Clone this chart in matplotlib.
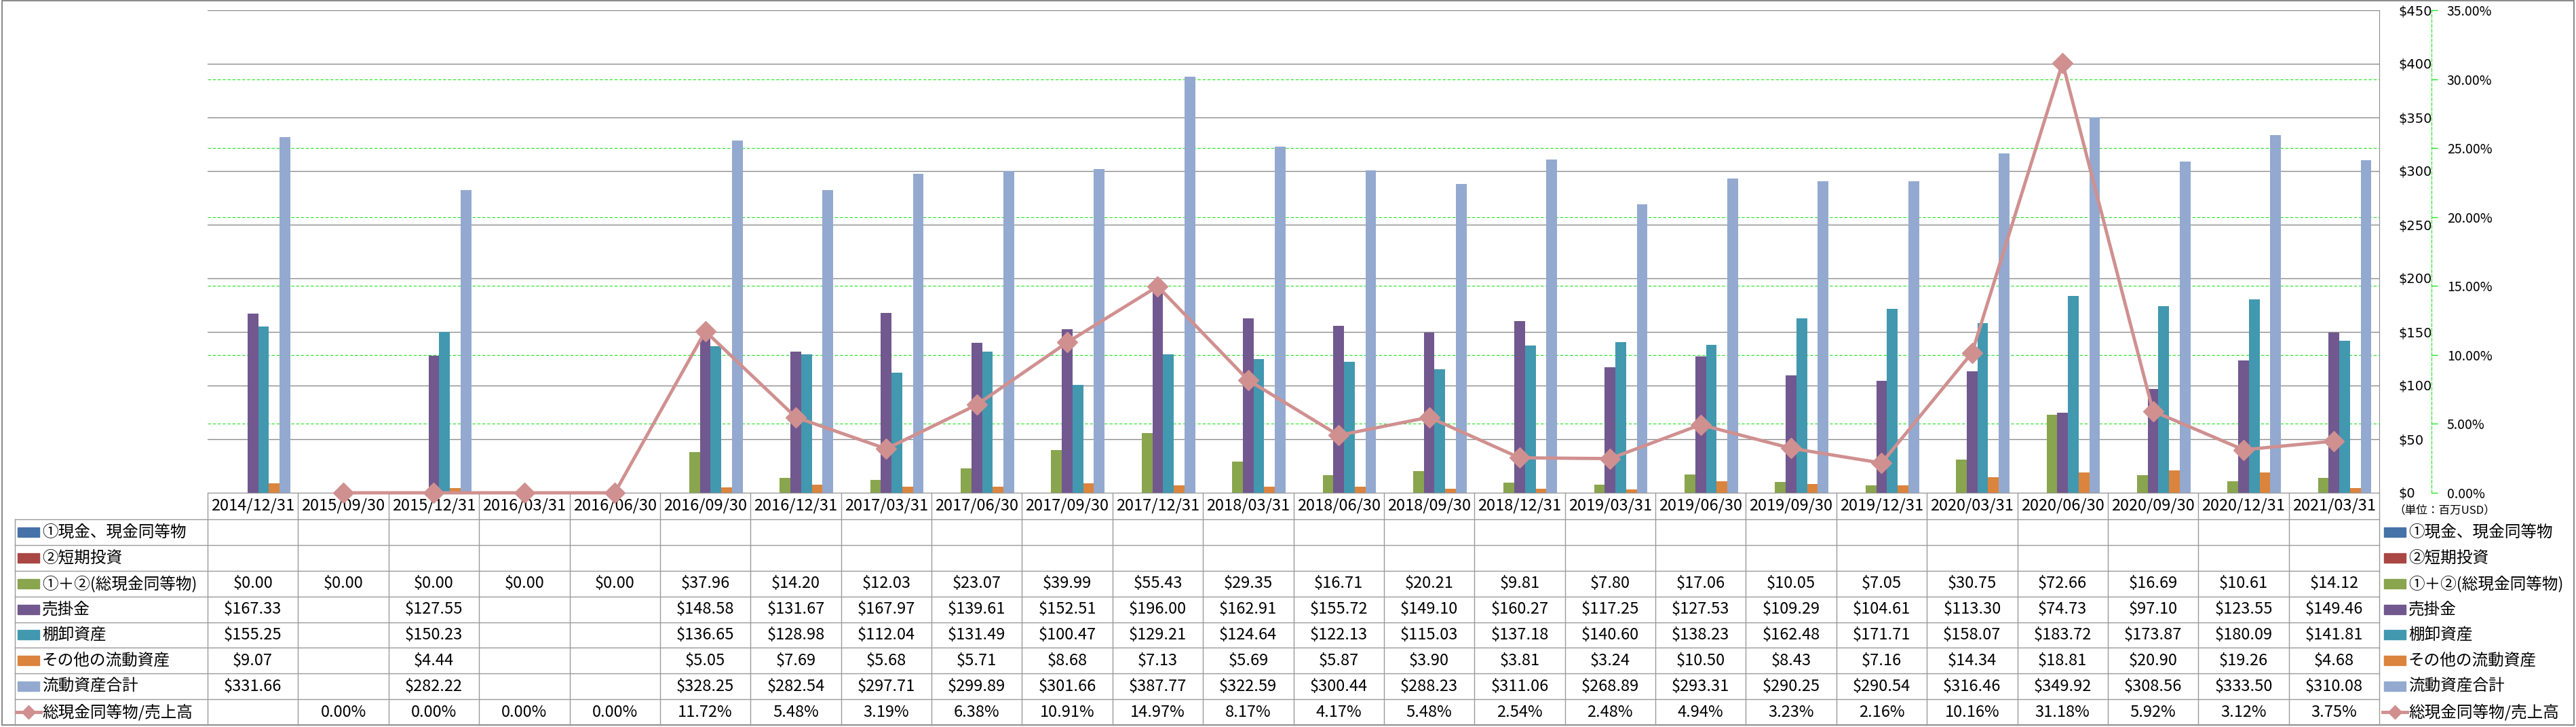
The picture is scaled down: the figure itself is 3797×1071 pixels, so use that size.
import matplotlib
matplotlib.use("Agg")
import matplotlib.pyplot as plt
import numpy as np
from matplotlib.patches import Rectangle
from matplotlib.transforms import blended_transform_factory

nan = np.nan

dates = ["2014/12/31", "2015/09/30", "2015/12/31", "2016/03/31", "2016/06/30", "2016/09/30",
         "2016/12/31", "2017/03/31", "2017/06/30", "2017/09/30", "2017/12/31", "2018/03/31",
         "2018/06/30", "2018/09/30", "2018/12/31", "2019/03/31", "2019/06/30", "2019/09/30",
         "2019/12/31", "2020/03/31", "2020/06/30", "2020/09/30", "2020/12/31", "2021/03/31"]

cash = [nan] * len(dates)
short_inv = [nan] * len(dates)
cash_total = [0.00, 0.00, 0.00, 0.00, 0.00, 37.96, 14.20, 12.03, 23.07, 39.99, 55.43, 29.35,
              16.71, 20.21, 9.81, 7.80, 17.06, 10.05, 7.05, 30.75, 72.66, 16.69, 10.61, 14.12]
receivables = [167.33, nan, 127.55, nan, nan, 148.58, 131.67, 167.97, 139.61, 152.51, 196.00, 162.91,
               155.72, 149.10, 160.27, 117.25, 127.53, 109.29, 104.61, 113.30, 74.73, 97.10, 123.55, 149.46]
inventory = [155.25, nan, 150.23, nan, nan, 136.65, 128.98, 112.04, 131.49, 100.47, 129.21, 124.64,
             122.13, 115.03, 137.18, 140.60, 138.23, 162.48, 171.71, 158.07, 183.72, 173.87, 180.09, 141.81]
other_assets = [9.07, nan, 4.44, nan, nan, 5.05, 7.69, 5.68, 5.71, 8.68, 7.13, 5.69,
                5.87, 3.90, 3.81, 3.24, 10.50, 8.43, 7.16, 14.34, 18.81, 20.90, 19.26, 4.68]
current_total = [331.66, nan, 282.22, nan, nan, 328.25, 282.54, 297.71, 299.89, 301.66, 387.77, 322.59,
                 300.44, 288.23, 311.06, 268.89, 293.31, 290.25, 290.54, 316.46, 349.92, 308.56, 333.50, 310.08]
cash_to_sales = [nan, 0.00, 0.00, 0.00, 0.00, 11.72, 5.48, 3.19, 6.38, 10.91, 14.97, 8.17,
                 4.17, 5.48, 2.54, 2.48, 4.94, 3.23, 2.16, 10.16, 31.18, 5.92, 3.12, 3.75]

bar_names = ["①現金、現金同等物", "②短期投資", "①＋②(総現金同等物)", "売掛金", "棚卸資産",
             "その他の流動資産", "流動資産合計"]
line_name = "総現金同等物/売上高"
bar_colors = ["#4572A7", "#AA4643", "#89A54E", "#71588F", "#4198AF", "#DB843D", "#93A9CF"]
line_color = "#D09090"
green = "#1EE61E"
grid_gray = "#8C8C8C"
table_gray = "#9A9A9A"

usd_ticks = list(range(0, 451, 50))
pct_ticks = [0.00, 0.05, 0.10, 0.15, 0.20, 0.25, 0.30, 0.35]

W, H, DPI = 3797, 1071, 100
plt.rcParams["font.family"] = ["Noto Sans CJK JP", "DejaVu Sans"]

fig = plt.figure(figsize=(W / DPI, H / DPI), dpi=DPI)
fig.patch.set_facecolor("white")

# layout in pixels
PL, PR, PT, PB = 306, 3507, 15, 726
TL, TB = 22, 1068
ROW_TOP = 765
ROW_H = (TB - ROW_TOP) / 8
FS = 17

tax = fig.add_axes([0, 0, 1, 1])
tax.set_xlim(0, W)
tax.set_ylim(H, 0)
tax.axis("off")

ax = fig.add_axes([PL / W, 1 - PB / H, (PR - PL) / W, (PB - PT) / H])
n = len(dates)
x = np.arange(n)
ax.set_xlim(-0.5, n - 0.5)
usd_max = usd_ticks[-1]
pct_max = pct_ticks[-1]
ax.set_ylim(0, usd_max)

bar_series = [cash, short_inv, cash_total, receivables, inventory, other_assets, current_total]
bw = 0.118
for j, (vals, col) in enumerate(zip(bar_series, bar_colors)):
    ax.bar(x + (j - 3) * bw, np.array(vals, dtype=float), width=bw, color=col, zorder=2)

ax.set_xticks([])
ax.grid(axis="y", color=grid_gray, lw=1.0)
ax.set_axisbelow(True)
for t in pct_ticks[1:-1]:
    ax.axhline(t / pct_max * usd_max, color=green, lw=0.8, ls=(0, (4, 2.5)), zorder=1)
for s in ["top", "left"]:
    ax.spines[s].set_visible(False)
ax.spines["right"].set_color(grid_gray)
ax.spines["bottom"].set_color(table_gray)

ax2 = ax.twinx()
ax2.set_ylim(0, pct_max)
ax2.plot(x, np.array(cash_to_sales) / 100, color=line_color, lw=3.5, marker="D", ms=15,
         mec=line_color, clip_on=False, zorder=3)

# twinx moves the host ticks to the left, so set them up afterwards
ax.set_yticks(usd_ticks)
ax.set_yticklabels([f"${v}" for v in usd_ticks])
ax.yaxis.tick_right()
ax.tick_params(axis="y", which="both", left=False, right=False, labelleft=False,
               labelright=True, pad=17, labelsize=14)

ax2.set_yticks(pct_ticks)
ax2.set_yticklabels([f"{v * 100:.2f}%" for v in pct_ticks])
ax2.tick_params(axis="y", length=6.5, width=1, color=green, pad=10, labelsize=14)
for lbl in ax.get_yticklabels() + ax2.get_yticklabels():
    lbl.set_fontfamily("DejaVu Sans")
for s in ["top", "left", "bottom"]:
    ax2.spines[s].set_visible(False)
ax2.spines["right"].set_position(("axes", (3584 - PL) / (PR - PL)))
ax2.spines["right"].set_color(green)
ax2.spines["right"].set_linestyle((0, (4, 2.5)))
ax2.spines["right"].set_linewidth(0.8)

# data table under the plot
trans = blended_transform_factory(ax.transData, tax.transData)
for i in range(n + 1):
    tax.plot([i - 0.5, i - 0.5], [PB, TB], color=table_gray, lw=1, transform=trans)
tax.plot([TL, TL], [ROW_TOP, TB], color=table_gray, lw=1)
for r in range(9):
    yy = ROW_TOP + r * ROW_H
    tax.plot([TL, PR], [yy, yy], color=table_gray, lw=1)

for i, d in enumerate(dates):
    tax.text(i, (PB + ROW_TOP) / 2, d, transform=trans, ha="center", va="center", fontsize=FS)

rows = bar_series + [cash_to_sales]
for r, vals in enumerate(rows):
    yc = ROW_TOP + (r + 0.5) * ROW_H
    for i, v in enumerate(vals):
        if np.isnan(v):
            continue
        txt = f"{v:.2f}%" if r == 7 else f"${v:.2f}"
        tax.text(i, yc, txt, transform=trans, ha="center", va="center", fontsize=FS)

# legend keys in the table and at the right
for sx, tx in [(26, 62), (3514, 3550)]:
    for r, name in enumerate(bar_names + [line_name]):
        yc = ROW_TOP + (r + 0.5) * ROW_H
        if r < 7:
            tax.add_patch(Rectangle((sx, yc - 7), 32, 14, color=bar_colors[r]))
        else:
            tax.plot([sx - 2, sx + 34], [yc, yc], color=line_color, lw=3.5)
            tax.plot([sx + 16], [yc], marker="D", ms=10, color=line_color)
        tax.text(tx, yc, name, ha="left", va="center", fontsize=FS)

tax.text(3528, 752, "（単位：百万USD）", ha="left", va="center", fontsize=12)

tax.add_patch(Rectangle((3, 1), W - 6, TB - 1, fill=False, edgecolor=grid_gray, lw=1.5))

fig.savefig("out.png", dpi=DPI)
